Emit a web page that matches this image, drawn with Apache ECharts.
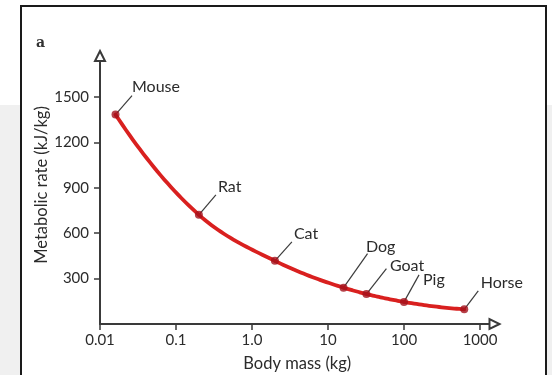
<!DOCTYPE html>
<html>
<head>
<meta charset="utf-8">
<script src="https://cdn.jsdelivr.net/npm/echarts@6/dist/echarts.min.js"></script>
<style>
html,body{margin:0;padding:0;background:#fff;}
#c{width:552px;height:375px;}
</style>
</head>
<body>
<div id="c"></div>
<script>
// ---- data ----
const animals = ['Mouse', 'Rat', 'Cat', 'Dog', 'Goat', 'Pig', 'Horse'];
const bodyMass = [0.016, 0.2, 2, 16, 32, 100, 620];          // kg
const metabolicRate = [1383, 721, 417, 240, 198, 146, 97];   // kJ/kg
const xTickValues = [0.01, 0.1, 1, 10, 100, 1000];
const xTickLabels = ['0.01', '0.1', '1.0', '10', '100', '1000'];
const yTickValues = [300, 600, 900, 1200, 1500];
const yTickLabels = ['300', '600', '900', '1200', '1500'];

// ---- label layout (pixel offsets from each point) ----
const leaderEnd = [[16.5,-19],[17,-20],[17,-19],[24,-34],[20,-25.5],[15,-27],[14,-18.5]];
const textPos = [[16.5,-28],[19,-28],[19,-27.5],[22.5,-41],[23.5,-28.5],[19,-22.5],[16.5,-26.5]];

const FONT = 'Lato, "Open Sans", sans-serif';
const TXT = '#2b2b2b';
const AX = '#3a3a3a';

const pts = bodyMass.map((m, i) => [m, metabolicRate[i]]);

// smooth curve through the data points (cubic Hermite in screen space)
function curveSegment(params, api) {
  const i = params.dataIndex;
  const n = pts.length;
  if (i >= n - 1) return null;
  const P = pts.map(p => api.coord(p));
  const h = [], d = [];
  for (let k = 0; k < n - 1; k++) {
    h.push(P[k + 1][0] - P[k][0]);
    d.push((P[k + 1][1] - P[k][1]) / h[k]);
  }
  const m = [];
  for (let k = 0; k < n; k++) {
    if (k === 0) m.push(((2 * h[0] + h[1]) * d[0] - h[0] * d[1]) / (h[0] + h[1]));
    else if (k === n - 1) m.push(((2 * h[n - 2] + h[n - 3]) * d[n - 2] - h[n - 2] * d[n - 3]) / (h[n - 2] + h[n - 3]));
    else m.push((h[k] * d[k - 1] + h[k - 1] * d[k]) / (h[k - 1] + h[k]));
  }
  const poly = [];
  const steps = 24;
  const x0 = P[i][0], y0 = P[i][1], y1 = P[i + 1][1], hh = h[i];
  for (let s = 0; s <= steps; s++) {
    const t = s / steps;
    const h00 = 2 * t * t * t - 3 * t * t + 1, h10 = t * t * t - 2 * t * t + t;
    const h01 = -2 * t * t * t + 3 * t * t, h11 = t * t * t - t * t;
    poly.push([x0 + t * hh, h00 * y0 + h10 * hh * m[i] + h01 * y1 + h11 * hh * m[i + 1]]);
  }
  return {type: 'polyline', shape: {points: poly},
    style: {stroke: '#d9201f', lineWidth: 3.8, fill: null, lineCap: 'round', lineJoin: 'round'}};
}

const chart = echarts.init(document.getElementById('c'), null, {renderer: 'canvas'});
chart.setOption({
  animation: false,
  backgroundColor: '#ffffff',
  graphic: [
    {type: 'rect', z: -10, shape: {x: 0, y: 105, width: 552, height: 270}, style: {fill: '#f0f0f0'}},
    {type: 'rect', z: -9, shape: {x: 21, y: 6, width: 525, height: 400}, style: {fill: '#ffffff', stroke: '#1a1a1a', lineWidth: 2}},
    {type: 'text', z: 5, x: 36, y: 36, style: {text: 'a', font: 'bold 14px "DejaVu Serif", serif', fill: '#333'}}
  ],
  grid: {left: 100, right: 57.5, top: 56, bottom: 51, containLabel: false, outerBoundsMode: 'none'},
  xAxis: {
    type: 'log', logBase: 10, min: 0.01, max: 1550,
    name: 'Body mass (kg)', nameLocation: 'middle', nameGap: 31, nameMoveOverlap: false,
    nameTextStyle: {fontFamily: FONT, fontSize: 16.5, color: TXT},
    axisLine: {show: true, symbol: ['none', 'emptyTriangle'], symbolSize: [10, 10],
      lineStyle: {color: AX, width: 2}},
    axisTick: {show: true, length: 6, inside: false, customValues: xTickValues, lineStyle: {color: AX, width: 1.5}},
    axisLabel: {customValues: xTickValues, margin: 9, fontFamily: FONT, fontSize: 15, color: TXT,
      formatter: function (v) {
        let best = 0, dd0 = Infinity;
        xTickValues.forEach((t, i) => { const dd = Math.abs(Math.log10(t) - Math.log10(v)); if (dd < dd0) { dd0 = dd; best = i; } });
        return xTickLabels[best];
      }},
    splitLine: {show: false}, minorTick: {show: false}
  },
  yAxis: {
    type: 'value', min: 0, max: 1770,
    name: 'Metabolic rate (kJ/kg)', nameLocation: 'middle', nameGap: 50, nameMoveOverlap: false,
    nameTextStyle: {fontFamily: FONT, fontSize: 16.5, color: TXT, padding: [0, 0, 0, 10]},
    axisLine: {show: true, symbol: ['none', 'emptyTriangle'], symbolSize: [10, 10],
      lineStyle: {color: AX, width: 2}},
    axisTick: {show: true, length: 6, customValues: yTickValues, lineStyle: {color: AX, width: 1.5}},
    axisLabel: {customValues: yTickValues, margin: 11, fontFamily: FONT, fontSize: 15, color: TXT,
      formatter: function (v) {
        const i = yTickValues.indexOf(Math.round(v));
        return i >= 0 ? yTickLabels[i] : '';
      }},
    splitLine: {show: false}
  },
  series: [
    {
      type: 'custom', z: 1,
      data: pts,
      renderItem: function (params, api) {
        const i = params.dataIndex;
        const p = api.coord([api.value(0), api.value(1)]);
        const e = leaderEnd[i], t = textPos[i];
        return {
          type: 'group',
          children: [
            {type: 'line', shape: {x1: p[0], y1: p[1], x2: p[0] + e[0], y2: p[1] + e[1]},
              style: {stroke: '#3c3c3c', lineWidth: 1.2}},
            {type: 'text', x: p[0] + t[0], y: p[1] + t[1],
              style: {text: animals[i], font: '16px ' + FONT, fill: TXT, align: 'left', verticalAlign: 'middle'}}
          ]
        };
      }
    },
    {
      type: 'custom', z: 2,
      data: pts,
      renderItem: curveSegment
    },
    {
      type: 'scatter', z: 3,
      data: pts,
      symbol: 'circle', symbolSize: 8,
      itemStyle: {color: '#a3121b'}
    }
  ]
});
</script>
</body>
</html>
